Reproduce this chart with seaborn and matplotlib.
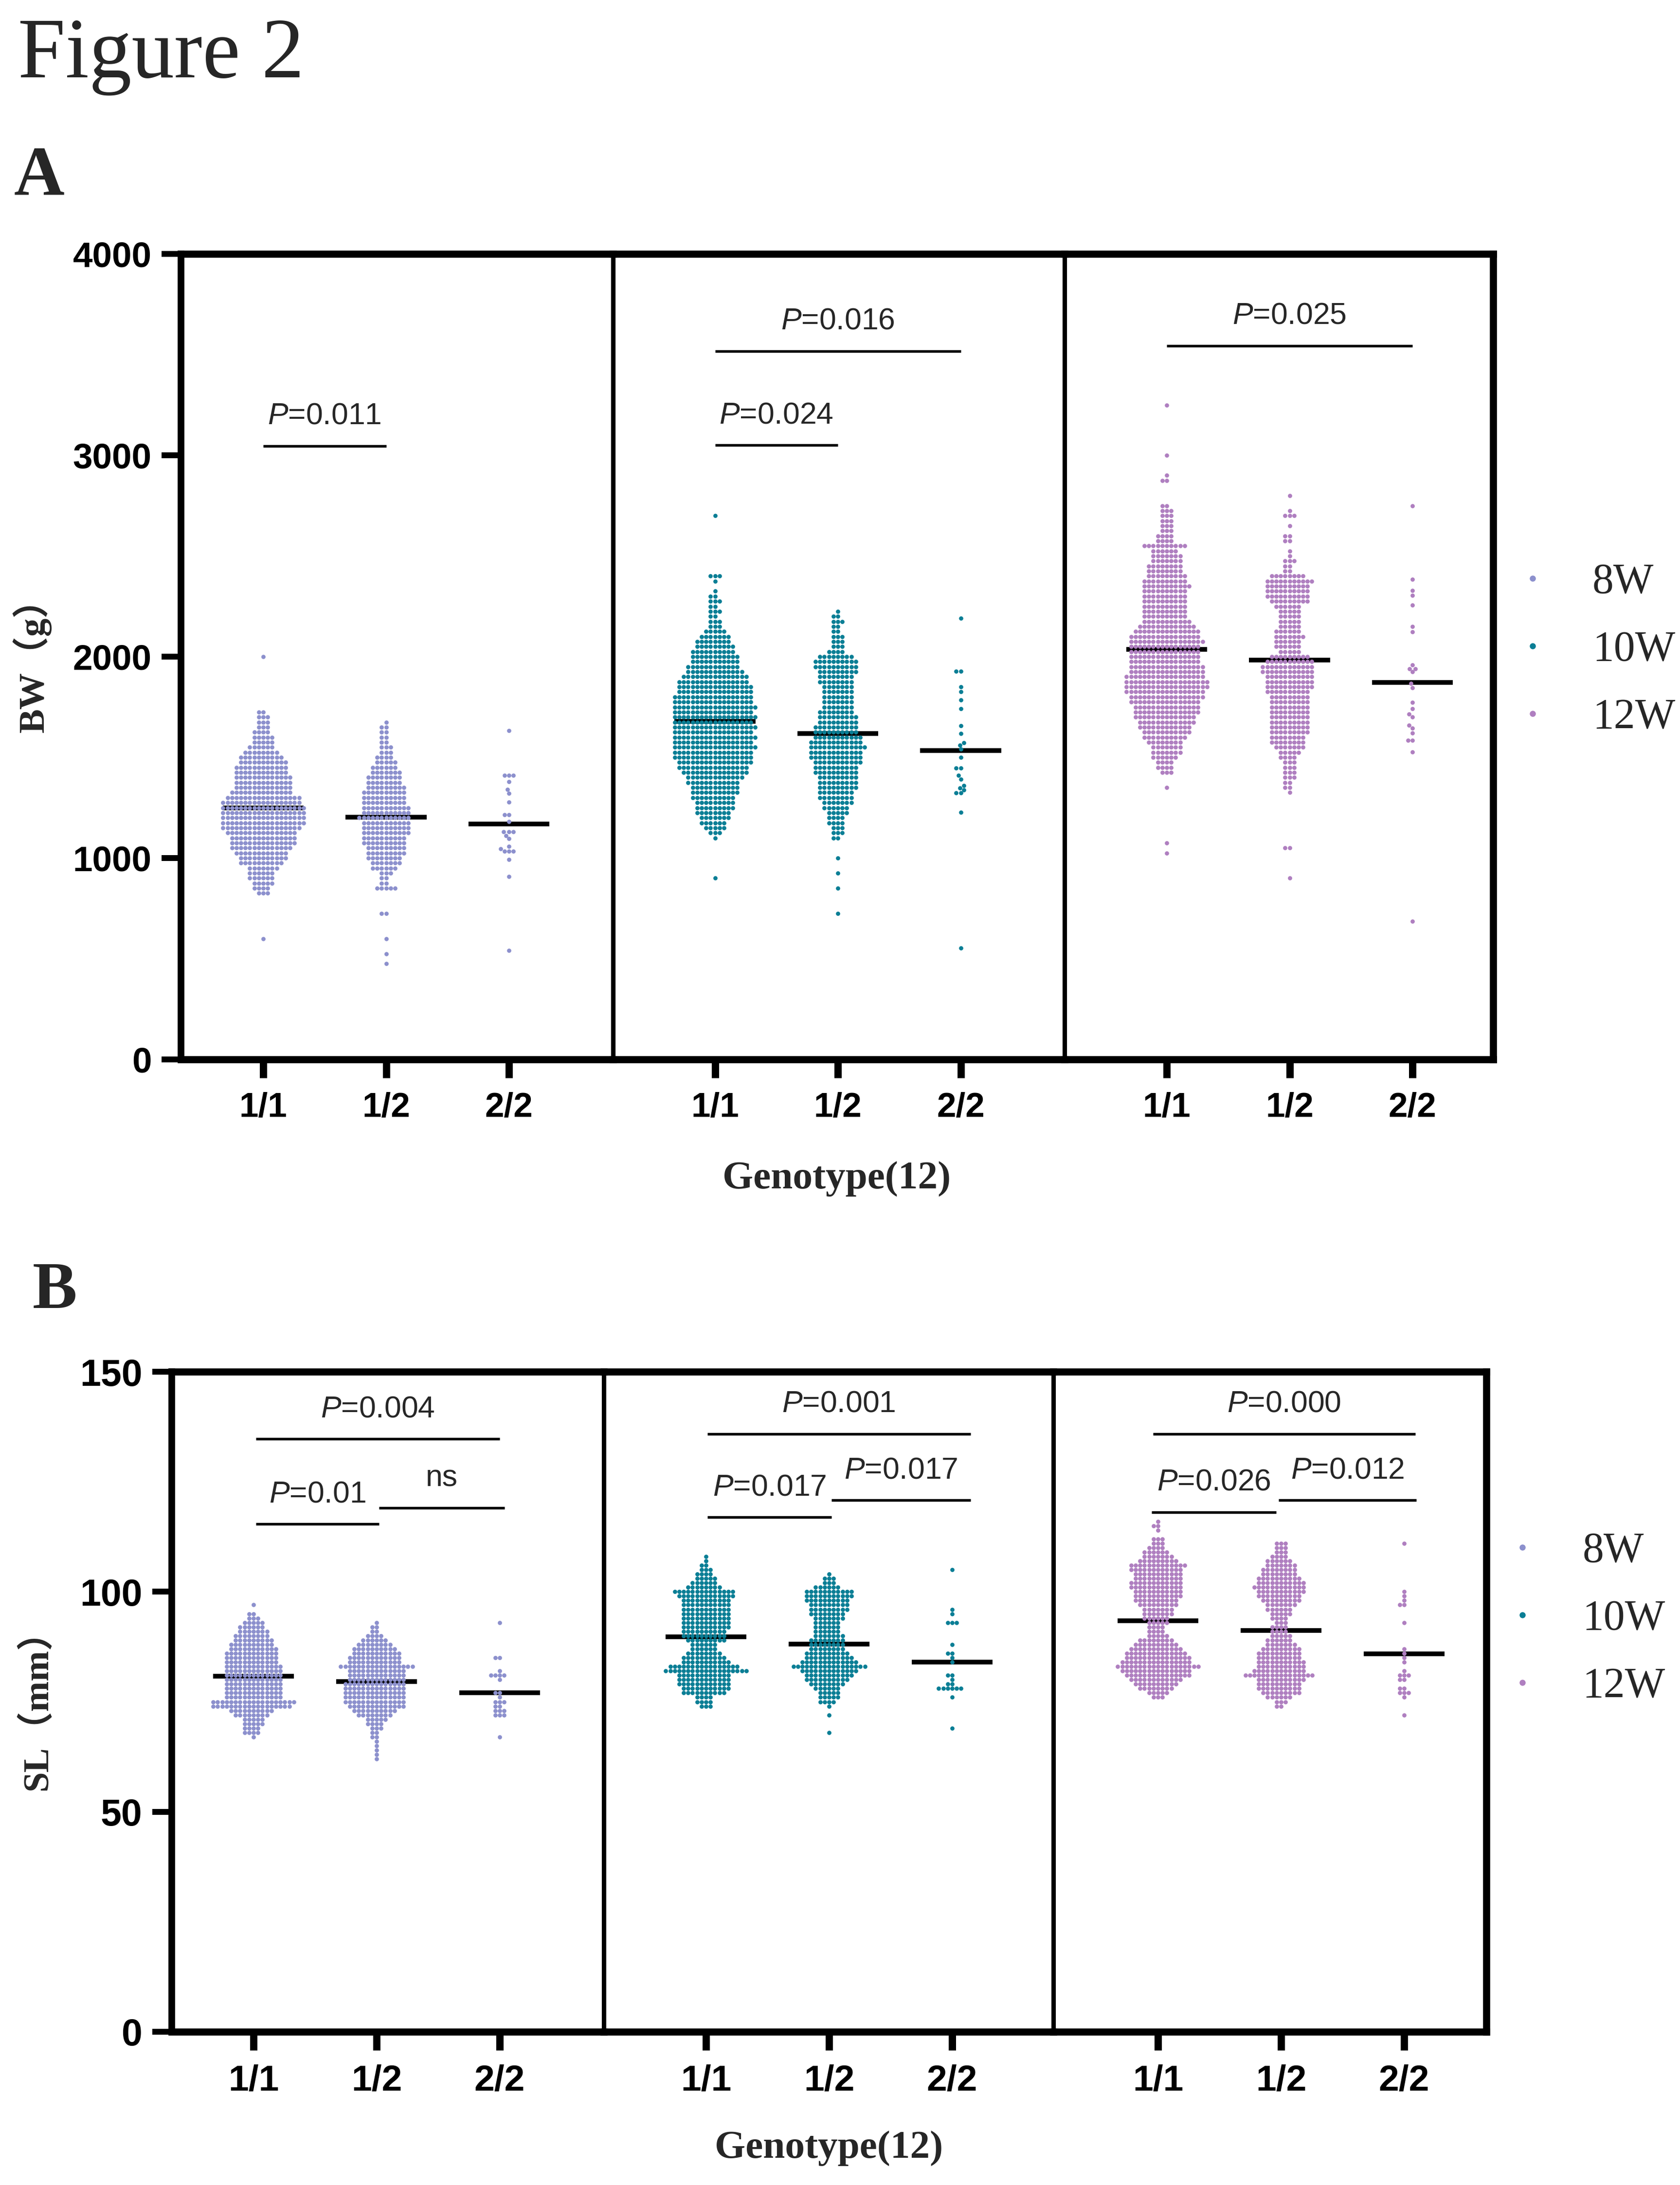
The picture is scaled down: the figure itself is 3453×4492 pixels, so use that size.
import numpy as np
import pandas as pd
import matplotlib
matplotlib.use("Agg")
import matplotlib.pyplot as plt
from matplotlib.lines import Line2D
import seaborn as sns

# ----------------------------------------------------------------- data ----
GENOTYPES = ["1/1", "1/2", "2/2"]
WEEKS = ["8W", "10W", "12W"]
WEEK_COLORS = ["#8C90CD", "#0A7E95", "#AF7FC0"]

# Panel A, body weight (g). Dense groups: (row value, number of dots in row)
BW_8W_11 = [(600, 1), (825, 3), (850, 4), (875, 5), (900, 6), (925, 6), (950, 7), (975, 10),
            (1000, 11), (1025, 12), (1050, 14), (1075, 15), (1100, 15), (1125, 16), (1150, 18),
            (1175, 19), (1200, 19), (1225, 19), (1250, 19), (1275, 18), (1300, 17), (1325, 14),
            (1350, 13), (1375, 13), (1400, 13), (1425, 12), (1450, 12), (1475, 11), (1500, 10),
            (1525, 8), (1550, 6), (1575, 5), (1600, 5), (1625, 4), (1650, 3), (1675, 3),
            (1700, 3), (1725, 2), (2000, 1)]
BW_8W_12 = [(475, 1), (525, 1), (600, 1), (725, 2), (850, 5), (875, 2), (900, 2), (925, 3),
            (950, 6), (975, 7), (1000, 8), (1025, 9), (1050, 9), (1075, 10), (1100, 10),
            (1125, 11), (1150, 11), (1175, 11), (1200, 12), (1225, 11), (1250, 11), (1275, 10),
            (1300, 10), (1325, 10), (1350, 9), (1375, 8), (1400, 8), (1425, 7), (1450, 6),
            (1475, 5), (1500, 4), (1525, 3), (1550, 3), (1575, 2), (1600, 2), (1625, 2),
            (1650, 2), (1675, 1)]
BW_8W_22 = [541, 908, 992, 1035, 1035, 1035, 1047, 1058, 1096, 1112, 1130, 1130, 1130, 1180,
            1214, 1214, 1277, 1321, 1341, 1379, 1410, 1410, 1410, 1633]

BW_10W_11 = [(900, 1), (1100, 1), (1125, 3), (1150, 5), (1175, 6), (1200, 7), (1225, 8),
             (1250, 9), (1275, 9), (1300, 10), (1325, 11), (1350, 11), (1375, 12), (1400, 13),
             (1425, 15), (1450, 16), (1475, 17), (1500, 18), (1525, 18), (1550, 19), (1575, 18),
             (1600, 19), (1625, 18), (1650, 19), (1675, 18), (1700, 19), (1725, 18), (1750, 19),
             (1775, 18), (1800, 18), (1825, 17), (1850, 17), (1875, 16), (1900, 15), (1925, 13),
             (1950, 12), (1975, 11), (2000, 11), (2025, 10), (2050, 9), (2075, 8), (2100, 7),
             (2125, 5), (2150, 3), (2175, 3), (2200, 2), (2225, 3), (2250, 2), (2275, 3),
             (2300, 2), (2325, 1), (2375, 1), (2400, 3), (2700, 1)]
BW_10W_12 = [(725, 1), (850, 1), (925, 1), (1000, 1), (1100, 2), (1125, 3), (1150, 3),
             (1175, 4), (1200, 4), (1225, 5), (1250, 6), (1275, 7), (1300, 8), (1325, 8),
             (1350, 9), (1375, 9), (1400, 9), (1425, 10), (1450, 10), (1475, 11), (1500, 12),
             (1525, 12), (1550, 13), (1575, 12), (1600, 11), (1625, 10), (1650, 10), (1675, 9),
             (1700, 9), (1725, 8), (1750, 7), (1775, 7), (1800, 7), (1825, 7), (1850, 7),
             (1875, 8), (1900, 8), (1925, 9), (1950, 10), (1975, 10), (2000, 8), (2025, 4),
             (2050, 3), (2075, 3), (2100, 3), (2125, 2), (2150, 2), (2175, 3), (2200, 2),
             (2225, 1)]
BW_10W_22 = [552, 1228, 1324, 1324, 1338, 1348, 1360, 1391, 1410, 1448, 1448, 1501, 1540, 1561,
             1573, 1619, 1657, 1741, 1784, 1825, 1851, 1928, 1928, 2192]

BW_12W_11 = [(1025, 1), (1075, 1), (1350, 1), (1425, 3), (1450, 4), (1475, 4), (1500, 6),
             (1525, 7), (1550, 7), (1575, 8), (1600, 10), (1625, 11), (1650, 12), (1675, 13),
             (1700, 14), (1725, 15), (1750, 15), (1775, 16), (1800, 17), (1825, 18), (1850, 19),
             (1875, 19), (1900, 18), (1925, 17), (1950, 17), (1975, 16), (2000, 16), (2025, 16),
             (2050, 16), (2075, 17), (2100, 16), (2125, 15), (2150, 13), (2175, 11), (2200, 10),
             (2225, 10), (2250, 10), (2275, 10), (2300, 10), (2325, 10), (2350, 11), (2375, 10),
             (2400, 9), (2425, 8), (2450, 8), (2475, 7), (2500, 7), (2525, 6), (2550, 10),
             (2575, 4), (2600, 4), (2625, 3), (2650, 3), (2675, 3), (2700, 3), (2725, 3),
             (2750, 2), (2875, 2), (2900, 1), (3000, 1), (3250, 1)]
BW_12W_12 = [(900, 1), (1050, 2), (1325, 1), (1350, 2), (1375, 2), (1400, 3), (1425, 3),
             (1450, 3), (1475, 3), (1500, 4), (1525, 5), (1550, 7), (1575, 8), (1600, 8),
             (1625, 9), (1650, 9), (1675, 9), (1700, 9), (1725, 9), (1750, 9), (1775, 9),
             (1800, 9), (1825, 10), (1850, 11), (1875, 11), (1900, 11), (1925, 12), (1950, 12),
             (1975, 11), (2000, 9), (2025, 5), (2050, 6), (2075, 6), (2100, 7), (2125, 6),
             (2150, 5), (2175, 5), (2200, 5), (2225, 5), (2250, 6), (2275, 9), (2300, 10),
             (2325, 10), (2350, 10), (2375, 11), (2400, 8), (2425, 2), (2450, 2), (2475, 3),
             (2500, 1), (2525, 1), (2575, 2), (2600, 2), (2650, 1), (2700, 3), (2725, 1),
             (2800, 1)]
BW_12W_22 = [686, 1527, 1585, 1585, 1621, 1645, 1659, 1700, 1714, 1741, 1772, 1846, 1866, 1925,
             1940, 1940, 1959, 2122, 2149, 2255, 2305, 2329, 2384, 2748]

BW_MEAN_8W = [1248, 1203, 1170]
BW_MEAN_10W = [1679, 1619, 1535]
BW_MEAN_12W = [2037, 1983, 1873]

# brackets: (from genotype idx, to genotype idx, height, label)
BW_BRACKETS_8W = [(0, 1, 3047, "0.011")]
BW_BRACKETS_10W = [(0, 1, 3050, "0.024"), (0, 2, 3517, "0.016")]
BW_BRACKETS_12W = [(0, 2, 3544, "0.025")]

# Panel B, standard length (mm)
SL_8W_11 = [(67, 1), (68, 4), (69, 4), (70, 5), (71, 5), (72, 8), (73, 10), (74, 18), (75, 19),
            (76, 13), (77, 13), (78, 13), (79, 13), (80, 13), (81, 13), (82, 13), (83, 13),
            (84, 12), (85, 12), (86, 12), (87, 11), (88, 10), (89, 9), (90, 8), (91, 7), (92, 6),
            (93, 5), (94, 3), (95, 2), (97, 1)]
SL_8W_12 = [(62, 1), (63, 1), (64, 1), (65, 1), (66, 1), (67, 2), (68, 2), (69, 3), (70, 4),
            (71, 5), (72, 8), (73, 10), (74, 13), (75, 14), (76, 14), (77, 14), (78, 14),
            (79, 14), (80, 13), (81, 13), (82, 13), (83, 17), (84, 12), (85, 12), (86, 11),
            (87, 10), (88, 8), (89, 6), (90, 4), (91, 2), (92, 2), (93, 1)]
SL_8W_22 = [67, 72, 72, 72, 73, 73, 73, 74, 74, 75, 75, 75, 76, 77, 77, 80, 81, 81, 81, 81, 82,
            85, 85, 93]

SL_10W_11 = [(74, 3), (75, 4), (76, 4), (77, 10), (78, 11), (79, 12), (80, 12), (81, 12),
             (82, 19), (83, 16), (84, 11), (85, 10), (86, 8), (87, 6), (88, 6), (89, 9), (90, 10),
             (91, 10), (92, 11), (93, 11), (94, 11), (95, 11), (96, 11), (97, 11), (98, 11),
             (99, 13), (100, 14), (101, 8), (102, 6), (103, 5), (104, 4), (105, 3), (106, 2),
             (107, 1), (108, 1)]
SL_10W_12 = [(68, 1), (72, 1), (74, 1), (75, 4), (76, 5), (77, 5), (78, 6), (79, 8), (80, 10),
             (81, 11), (82, 13), (83, 17), (84, 13), (85, 11), (86, 10), (87, 8), (88, 8),
             (89, 8), (90, 7), (91, 6), (92, 6), (93, 6), (94, 7), (95, 8), (96, 9), (97, 9),
             (98, 10), (99, 11), (100, 11), (101, 6), (102, 3), (103, 3), (104, 1)]
SL_10W_22 = [69, 76, 78, 78, 78, 78, 78, 78, 79, 79, 80, 81, 81, 84, 85, 86, 86, 88, 93, 93, 93,
             95, 96, 105]

SL_12W_11 = [(76, 3), (77, 5), (78, 8), (79, 10), (80, 12), (81, 15), (82, 16), (83, 19),
             (84, 16), (85, 15), (86, 14), (87, 12), (88, 10), (89, 8), (90, 5), (91, 4), (92, 4),
             (93, 5), (94, 6), (95, 7), (96, 7), (97, 9), (98, 10), (99, 11), (100, 11),
             (101, 12), (102, 12), (103, 11), (104, 11), (105, 12), (106, 13), (107, 9),
             (108, 7), (109, 6), (110, 4), (111, 3), (112, 3), (114, 1), (115, 2), (116, 1)]
SL_12W_12 = [(74, 2), (75, 3), (76, 6), (77, 9), (78, 10), (79, 10), (80, 11), (81, 16),
             (82, 12), (83, 11), (84, 11), (85, 10), (86, 10), (87, 9), (88, 7), (89, 6), (90, 5),
             (91, 4), (92, 4), (93, 3), (94, 4), (95, 5), (96, 6), (97, 7), (98, 9), (99, 10),
             (100, 11), (101, 12), (102, 11), (103, 10), (104, 8), (105, 8), (106, 7), (107, 6),
             (108, 4), (109, 3), (110, 3), (111, 3)]
SL_12W_22 = [72, 76, 77, 77, 77, 78, 78, 80, 80, 81, 81, 81, 82, 84, 85, 86, 87, 93, 97, 97, 98,
             99, 100, 111]

SL_MEAN_8W = [80.8, 79.6, 77.1]
SL_MEAN_10W = [89.8, 88.1, 84.0]
SL_MEAN_12W = [93.4, 91.2, 85.9]

SL_BRACKETS_8W = [(0.02, 2.0, 134.7, "0.004"), (0.02, 1.02, 115.4, "0.01"), (1.02, 2.04, 119.0, "ns")]
SL_BRACKETS_10W = [(0.01, 2.15, 135.9, "0.001"), (0.01, 1.02, 116.9, "0.017"), (1.02, 2.15, 120.8, "0.017")]
SL_BRACKETS_12W = [(-0.04, 2.09, 135.9, "0.000"), (-0.05, 0.96, 118.1, "0.026"), (0.98, 2.1, 120.8, "0.012")]

BW_TICKS = [0, 1000, 2000, 3000, 4000]
SL_TICKS = [0, 50, 100, 150]

# --------------------------------------------------------------- layout ----
W, H, DPI = 3453, 4492, 300
SERIF = ["Liberation Serif", "Noto Sans CJK SC", "DejaVu Serif"]
SANS = ["Liberation Sans", "DejaVu Sans"]

sns.set_style("ticks")
plt.rcParams["font.family"] = SANS
plt.rcParams["mathtext.fontset"] = "custom"
plt.rcParams["mathtext.it"] = "Liberation Sans:italic"
plt.rcParams["mathtext.rm"] = "Liberation Sans"
plt.rcParams["axes.edgecolor"] = "black"
plt.rcParams["xtick.color"] = "black"
plt.rcParams["ytick.color"] = "black"


def rows_to_values(rows):
    levels = np.array([r[0] for r in rows], dtype=float)
    counts = np.array([r[1] for r in rows], dtype=int)
    return np.repeat(levels, counts)


def fx(px):
    return px / W


def fy(py):
    return 1 - py / H


fig = plt.figure(figsize=(W / DPI, H / DPI), dpi=DPI)

PANELS = [
    dict(
        top=522, bottom=2178,
        edges=[(372, 1260, 541), (1260, 2188, 1469.5), (2188, 3069, 2398)], unit=252.5,
        groups=[[BW_8W_11, BW_8W_12, BW_8W_22], [BW_10W_11, BW_10W_12, BW_10W_22],
                [BW_12W_11, BW_12W_12, BW_12W_22]],
        means=[BW_MEAN_8W, BW_MEAN_10W, BW_MEAN_12W],
        brackets=[BW_BRACKETS_8W, BW_BRACKETS_10W, BW_BRACKETS_12W],
        ylim=(0, 4000), ticks=BW_TICKS, ytick_size=17.5, xtick_size=17,
        ylabel="BW（g）", ylabel_xy=(66, 1350), xlabel_xy=(1720, 2444),
        letter="A", letter_xy=(29, 400), letter_size=34.5,
        legend_xy=(3106, 1337),
    ),
    dict(
        top=2820, bottom=4177,
        edges=[(353, 1241, 521), (1241, 2165, 1451), (2165, 3055, 2380)], unit=253,
        groups=[[SL_8W_11, SL_8W_12, SL_8W_22], [SL_10W_11, SL_10W_12, SL_10W_22],
                [SL_12W_11, SL_12W_12, SL_12W_22]],
        means=[SL_MEAN_8W, SL_MEAN_10W, SL_MEAN_12W],
        brackets=[SL_BRACKETS_8W, SL_BRACKETS_10W, SL_BRACKETS_12W],
        ylim=(0, 150), ticks=SL_TICKS, ytick_size=18.5, xtick_size=18,
        ylabel="SL（mm）", ylabel_xy=(77, 3498), xlabel_xy=(1704, 4437),
        letter="B", letter_xy=(67, 2689), letter_size=33,
        legend_xy=(3085, 3329),
    ),
]

for panel in PANELS:
    for i, (x0, x1, c0) in enumerate(panel["edges"]):
        ax = fig.add_axes([fx(x0), fy(panel["bottom"]), fx(x1 - x0),
                           (panel["bottom"] - panel["top"]) / H])
        raw = panel["groups"][i]
        vals = [rows_to_values(raw[0]), rows_to_values(raw[1]), np.array(raw[2], dtype=float)]
        df = pd.DataFrame({
            "Genotype": np.concatenate([[g] * len(v) for g, v in zip(GENOTYPES, vals)]),
            "value": np.concatenate(vals),
        })
        sns.swarmplot(data=df, x="Genotype", y="value", order=GENOTYPES, color=WEEK_COLORS[i],
                      size=2.1, linewidth=0, ax=ax, zorder=3, warn_thresh=1.0)
        pos = np.arange(len(GENOTYPES))
        ax.hlines(panel["means"][i], pos - 0.33, pos + 0.33, color="black", lw=2.3, zorder=2)

        for (b0, b1, yb, lab) in panel["brackets"][i]:
            ax.plot([b0, b1], [yb, yb], color="black", lw=1.3, solid_capstyle="butt", zorder=4)
            text = "ns" if lab == "ns" else "$P$=" + lab
            ax.annotate(text, xy=((b0 + b1) / 2, yb), xytext=(0, 10.8),
                        textcoords="offset points", ha="center", va="baseline",
                        fontsize=15, family=SANS)

        ax.set_xlim((x0 - c0) / panel["unit"], (x1 - c0) / panel["unit"])
        ax.set_ylim(*panel["ylim"])
        ax.set_yticks(panel["ticks"])
        ax.set_xticks(pos)
        ax.set_xticklabels(GENOTYPES)
        ax.set_xlabel("")
        ax.set_ylabel("")
        ax.tick_params(axis="x", direction="out", length=9, width=3.6, pad=7,
                       labelsize=panel["xtick_size"])
        for lbl in ax.get_xticklabels():
            lbl.set_fontweight("bold")
        if i == 0:
            ax.tick_params(axis="y", direction="out", length=9.5, width=2.9, pad=5,
                           labelsize=panel["ytick_size"])
            for lbl in ax.get_yticklabels():
                lbl.set_fontweight("bold")
        else:
            ax.tick_params(axis="y", left=False, labelleft=False)

        ax.spines["top"].set_linewidth(3.5)
        ax.spines["bottom"].set_linewidth(3.5)
        if i == 0:
            ax.spines["left"].set_linewidth(3.3)
            ax.spines["right"].set_linewidth(2.2)
        elif i == 1:
            ax.spines["left"].set_visible(False)
            ax.spines["right"].set_linewidth(2.2)
        else:
            ax.spines["left"].set_visible(False)
            ax.spines["right"].set_linewidth(3.5)
        for sp in ax.spines.values():
            sp.set_color("black")
            sp.set_zorder(5)
        ax.set_facecolor("white")
        ax.patch.set_alpha(0)

    # panel texts
    fig.text(fx(panel["ylabel_xy"][0]), fy(panel["ylabel_xy"][1]), panel["ylabel"],
             rotation=90, ha="center", va="center", fontsize=18, fontweight="bold",
             family=SERIF)
    fig.text(fx(panel["xlabel_xy"][0]), fy(panel["xlabel_xy"][1]), "Genotype(12)",
             ha="center", va="baseline", fontsize=19.5, fontweight="bold", family=SERIF)
    fig.text(fx(panel["letter_xy"][0]), fy(panel["letter_xy"][1]), panel["letter"],
             ha="left", va="baseline", fontsize=panel["letter_size"], fontweight="bold",
             family=SERIF)

    handles = [Line2D([], [], marker="o", linestyle="none", markersize=3.0,
                      markerfacecolor=c, markeredgewidth=0, label=w)
               for w, c in zip(WEEKS, WEEK_COLORS)]
    fig.legend(handles=handles, loc="center left",
               bbox_to_anchor=(fx(panel["legend_xy"][0]), fy(panel["legend_xy"][1])),
               frameon=False, prop={"family": SERIF, "size": 21}, handlelength=1.0,
               handletextpad=0.91, labelspacing=0.66, borderpad=0, borderaxespad=0)

fig.text(fx(37), fy(158), "Figure 2", ha="left", va="baseline", fontsize=42, family=SERIF)

fig.savefig("out.png", dpi=DPI, facecolor="white")
